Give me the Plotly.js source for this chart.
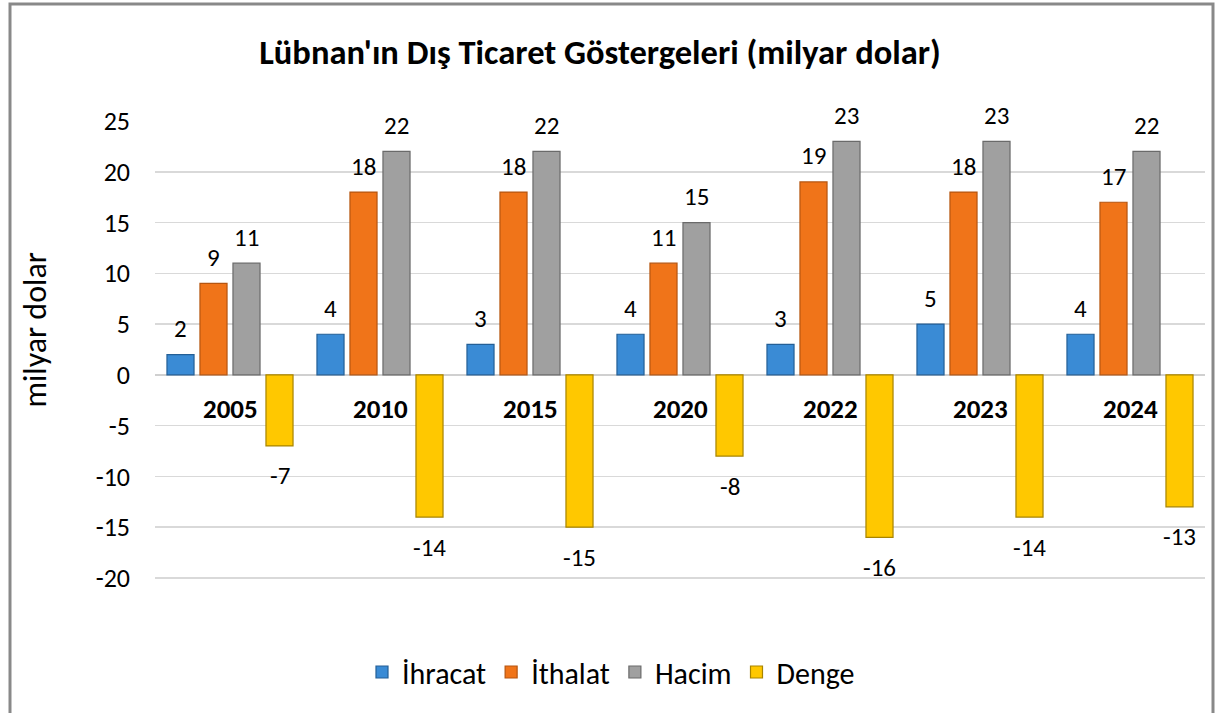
<!DOCTYPE html>
<html>
<head>
<meta charset="utf-8">
<script src="https://cdn.plot.ly/plotly-3.0.1.min.js"></script>
<style>html,body{margin:0;padding:0;background:#fff;}#chart{width:1219px;height:713px;}</style>
</head>
<body>
<div id="chart"></div>
<script>
const years = ["2005", "2010", "2015", "2020", "2022", "2023", "2024"];
const ihracat = [2, 4, 3, 4, 3, 5, 4];
const ithalat = [9, 18, 18, 11, 19, 18, 17];
const hacim = [11, 22, 22, 15, 23, 23, 22];
const denge = [-7, -14, -15, -8, -16, -14, -13];
const seriesNames = ["İhracat", "İthalat", "Hacim", "Denge"];
const yTicks = [-20, -15, -10, -5, 0, 5, 10, 15, 20, 25];

const FONT = "Carlito, Calibri, Lato, sans-serif";
const fills = ["#3a8bd5", "#f07419", "#a0a0a0", "#ffc800"];
const lines = ["#245f96", "#b55510", "#6a6a6a", "#a88400"];
const allSeries = [ihracat, ithalat, hacim, denge];
const offsets = [-0.33, -0.11, 0.11, 0.33];

const traces = allSeries.map((vals, i) => ({
  type: "bar",
  name: seriesNames[i],
  x: years,
  y: vals,
  marker: {color: fills[i], line: {color: lines[i], width: 1.2}},
  hoverinfo: "y"
}));

const annotations = [];
allSeries.forEach((vals, i) => {
  vals.forEach((v, j) => {
    annotations.push({
      xref: "x", yref: "y", x: j + offsets[i], y: v,
      text: String(v), showarrow: false,
      yshift: v >= 0 ? 26 : -30,
      font: {family: FONT, size: 25, color: "#000"}
    });
  });
});
years.forEach((yr, j) => {
  annotations.push({
    xref: "x", yref: "y", x: j, y: 0, text: "<b>" + yr + "</b>",
    showarrow: false, yshift: -34,
    font: {family: FONT, size: 27, color: "#000"}
  });
});
annotations.push({
  xref: "paper", yref: "paper", x: -0.114, y: 0.545, xanchor: "center", yanchor: "middle",
  text: "milyar dolar", textangle: -90, showarrow: false,
  font: {family: FONT, size: 32, color: "#000"}
});

const layout = {
  width: 1219, height: 713,
  margin: {l: 155, r: 14, t: 121, b: 132},
  paper_bgcolor: "#fff", plot_bgcolor: "#fff",
  font: {family: FONT, color: "#000"},
  title: {text: "<b>Lübnan'ın Dış Ticaret Göstergeleri (milyar dolar)</b>",
          font: {family: FONT, size: 34.5, color: "#000"},
          x: 600 / 1219, xref: "container", xanchor: "center",
          y: 1 - 52 / 713, yref: "container", yanchor: "middle"},
  barmode: "group", bargap: 0.12, bargroupgap: 0.18,
  xaxis: {type: "category", showticklabels: false, showgrid: false, zeroline: false,
          showline: false, ticks: ""},
  yaxis: {range: [-20.3, 25], tickvals: yTicks, ticktext: yTicks.map(String),
          showgrid: true, gridcolor: "#d9d9d9", gridwidth: 1.5,
          zeroline: true, zerolinecolor: "#d0d0d0", zerolinewidth: 2,
          showline: false, ticks: "", ticklabelstandoff: 24,
          tickfont: {family: FONT, size: 26, color: "#000"}},
  legend: {orientation: "h", x: (611 - 155) / 1050, xanchor: "center",
           y: -91 / 460, yanchor: "middle",
           font: {family: FONT, size: 30, color: "#000"},
           itemwidth: 30, traceorder: "normal"},
  showlegend: true,
  annotations: annotations,
  shapes: [{type: "rect", xref: "paper", yref: "paper",
            x0: (10 - 155) / 1050, x1: (1213 - 155) / 1050,
            y0: (581 - 720) / 460, y1: (581 - 4) / 460,
            line: {color: "#898989", width: 3}, fillcolor: "rgba(0,0,0,0)", layer: "below"}]
};

Plotly.newPlot("chart", traces, layout, {displayModeBar: false, staticPlot: true});
</script>
</body>
</html>
